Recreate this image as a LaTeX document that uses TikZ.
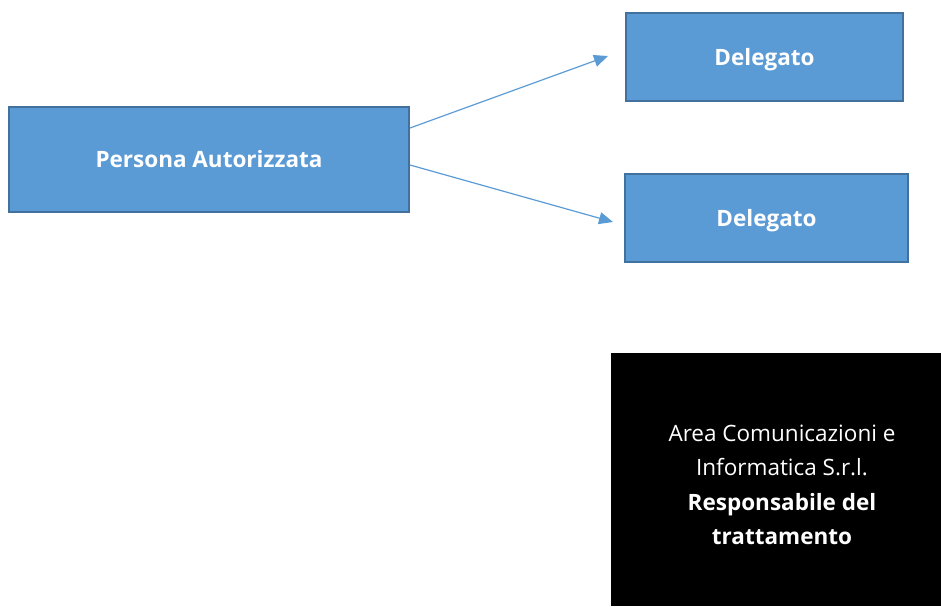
\documentclass[tikz,border=0pt]{standalone}
\usepackage{fontspec}
\setmainfont{Open Sans}
\usetikzlibrary{arrows.meta}
\definecolor{boxblue}{HTML}{5B9BD5}
\definecolor{boxedge}{HTML}{41719C}
\tikzset{
  bluebox/.style={draw=boxedge, line width=2pt, fill=boxblue, text=white, font=\fontsize{22.5}{26}\selectfont\bfseries, align=center, text depth=0pt},
  conn/.style={draw=boxblue, line width=1.2pt, -{Triangle[length=14pt,width=12pt]}}
}
\begin{document}
\begin{tikzpicture}[x=1pt,y=-1pt]
\useasboundingbox (0,0) rectangle (941,606);
\node[bluebox, minimum width=400pt, minimum height=105pt] (pa) at (209,159) {Persona Autorizzata};
\node[bluebox, minimum width=277pt, minimum height=88pt] (d1) at (764.5,57) {Delegato};
\node[bluebox, minimum width=283pt, minimum height=88pt] (d2) at (766.5,218) {Delegato};
\fill[black] (611,353) rectangle (941,606);
\node[text=white, align=center, font=\fontsize{22.5}{34.5}\selectfont] (resp) at (782,485) {Area Comunicazioni e\\Informatica S.r.l.\\\textbf{Responsabile del}\\\textbf{trattamento}};
\coordinate (t1) at (608,56);
\coordinate (t2) at (613,222);
\draw[conn] (pa.east |- 0,128) -- (t1);
\draw[conn] (pa.east |- 0,165) -- (t2);
\end{tikzpicture}
\end{document}
